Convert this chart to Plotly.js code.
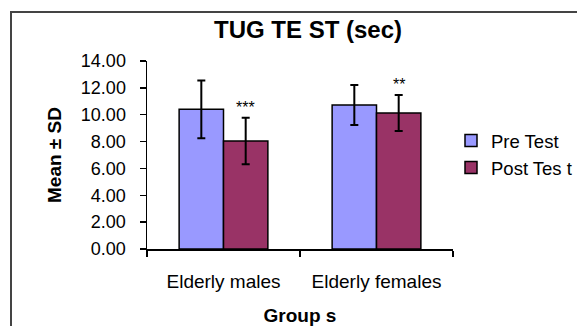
<!DOCTYPE html>
<html>
<head>
<meta charset="utf-8">
<script src="https://cdn.plot.ly/plotly-3.0.1.min.js"></script>
<style>
html,body{margin:0;padding:0;background:#fff;}
#chart{width:577px;height:326px;}
</style>
</head>
<body>
<div id="chart"></div>
<script>
// ---- data ----
const categories = ["Elderly males", "Elderly females"];
const seriesNames = ["Pre Test", "Post Tes t"];
const preMean = [10.40, 10.72];
const preSD = [2.15, 1.49];
const postMean = [8.05, 10.13];
const postSD = [1.73, 1.34];
const postSig = ["***", "**"];
const yTicks = [0, 2, 4, 6, 8, 10, 12, 14];

const FONT = "Arial, 'Liberation Sans', sans-serif";
const W = 577, H = 326;
const M = {l: 147, r: 124, t: 61, b: 77, autoexpand: false};
const pw = W - M.l - M.r, ph = H - M.t - M.b;
const px2x = p => (p - M.l) / pw;
const px2y = p => (H - M.b - p) / ph;

const errStyle = {type: 'data', visible: true, color: '#000', thickness: 2, width: 4};

const traces = [
  {
    type: 'bar', name: seriesNames[0], x: categories, y: preMean,
    marker: {color: '#9999FF', line: {color: '#000', width: 1.5}},
    error_y: Object.assign({array: preSD}, errStyle),
    hoverinfo: 'skip'
  },
  {
    type: 'bar', name: seriesNames[1], x: categories, y: postMean,
    marker: {color: '#993366', line: {color: '#000', width: 1.5}},
    error_y: Object.assign({array: postSD}, errStyle),
    hoverinfo: 'skip'
  }
];

// significance stars above post-test error bars
const annotations = categories.map((c, i) => ({
  x: c, y: postMean[i] + postSD[i], xref: 'x', yref: 'y',
  text: postSig[i], showarrow: false, xshift: 22, yshift: 10,
  font: {family: FONT, size: 16, color: '#000'}
}));

const layout = {
  width: W, height: H,
  margin: M,
  paper_bgcolor: '#fff', plot_bgcolor: '#fff',
  font: {family: FONT, color: '#000'},
  title: {
    text: '<b>TUG TE ST (sec)</b>',
    font: {family: FONT, size: 24, color: '#000'},
    x: 308 / W, xref: 'container', xanchor: 'center',
    y: 1 - 30 / H, yref: 'container', yanchor: 'middle'
  },
  barmode: 'group', bargap: 0.42, bargroupgap: 0,
  xaxis: {
    type: 'category',
    showline: true, linecolor: '#000', linewidth: 1.5,
    ticks: 'outside', tickson: 'boundaries', ticklen: 6, tickcolor: '#000', tickwidth: 1.5,
    tickfont: {family: FONT, size: 19, color: '#000'},
    ticklabelstandoff: 15,
    showgrid: false, zeroline: false,
    title: {text: '<b>Group s</b>', font: {family: FONT, size: 19, color: '#000'}, standoff: 20}
  },
  yaxis: {
    range: [0, 14], tickvals: yTicks, tickformat: '.2f',
    showline: true, linecolor: '#000', linewidth: 1.5,
    ticks: 'outside', ticklen: 6, tickcolor: '#000', tickwidth: 1.5,
    tickfont: {family: FONT, size: 18, color: '#000'},
    ticklabelstandoff: 10,
    showgrid: false, zeroline: false,
    title: {text: '<b>Mean ± SD</b>', font: {family: FONT, size: 19, color: '#000'}, standoff: 14}
  },
  showlegend: true,
  legend: {
    x: px2x(451), y: px2y(122), xanchor: 'left', yanchor: 'top',
    font: {family: FONT, size: 18.5, color: '#000'},
    bgcolor: 'rgba(0,0,0,0)', itemwidth: 30
  },
  annotations: annotations,
  shapes: [{
    type: 'rect', xref: 'paper', yref: 'paper',
    x0: px2x(11), x1: px2x(W + 20), y0: px2y(H + 20), y1: px2y(12),
    line: {color: '#444', width: 2}, fillcolor: 'rgba(0,0,0,0)', layer: 'below'
  }]
};

Plotly.newPlot('chart', traces, layout, {staticPlot: true, displayModeBar: false});
</script>
</body>
</html>
